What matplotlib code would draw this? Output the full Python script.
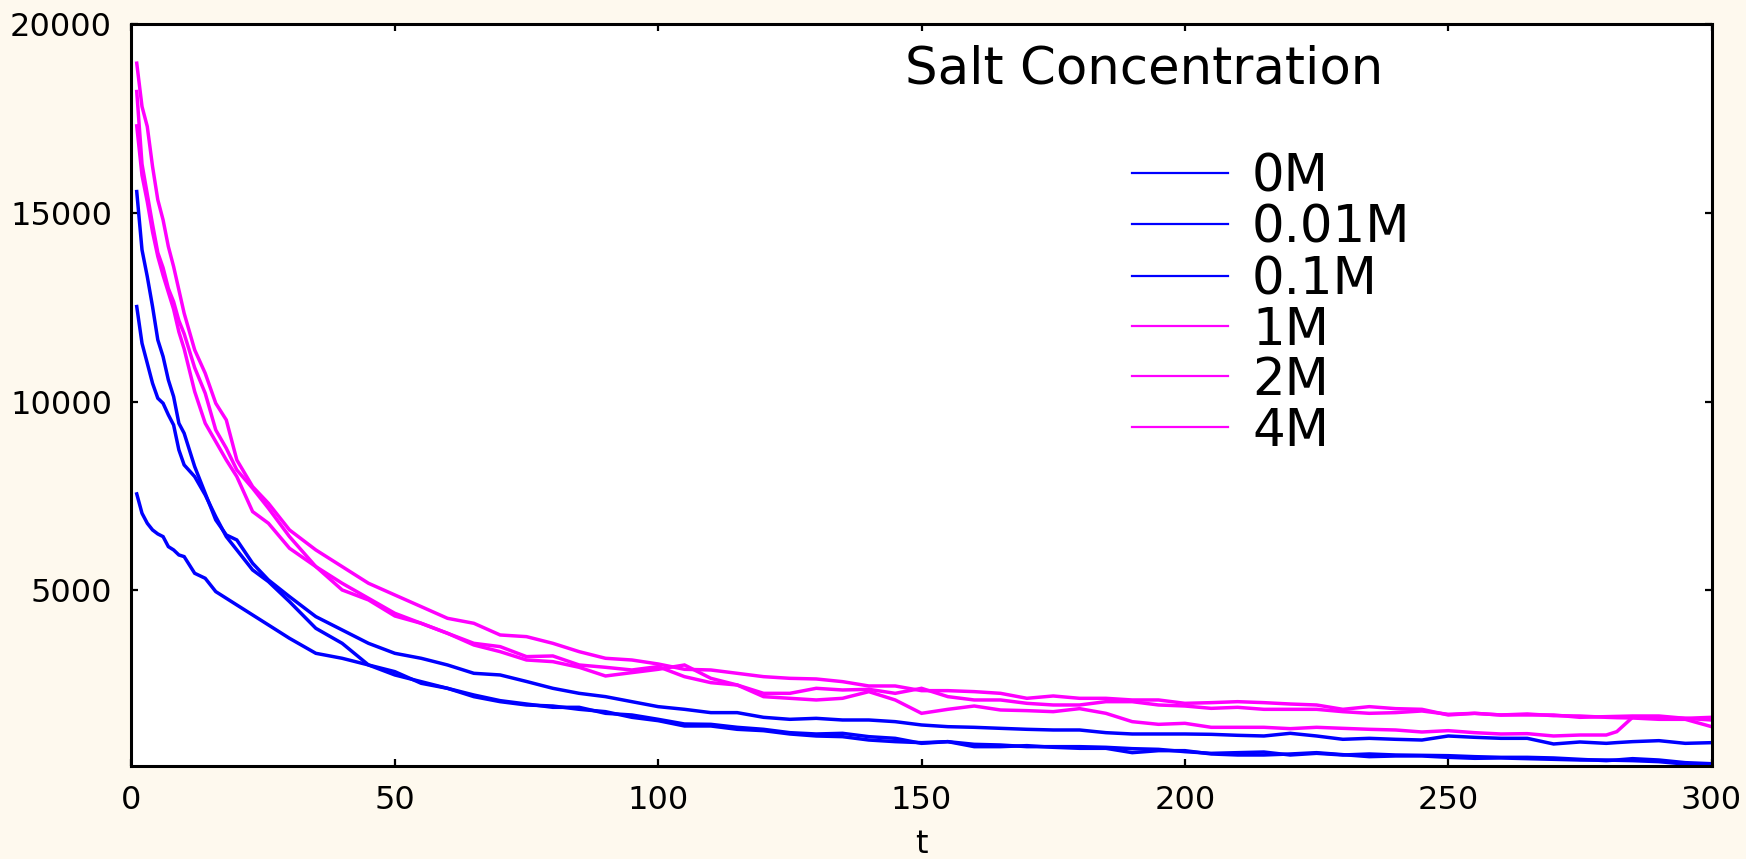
"""Salt concentration decay curves, six runs (0M .. 4M)."""

import matplotlib

matplotlib.use("Agg")
import matplotlib.pyplot as plt
import matplotlib.transforms as mtransforms

# time grid shared by all series (values at these t)
t = [1, 2, 3, 4, 5, 6, 7, 8, 9, 10,
     12, 14, 16, 18, 20, 23, 26, 30,
     35, 40, 45, 50, 55, 60, 65, 70, 75, 80, 85, 90, 95, 100,
     105, 110, 115, 120, 125, 130, 135, 140, 145, 150, 155, 160, 165, 170,
     175, 180, 185, 190, 195, 200, 205, 210, 215, 220, 225, 230, 235, 240,
     245, 250, 255, 260, 265, 270, 275, 280,
     282, 285, 290, 295, 300]

c_0M = [15570, 14024, 13316, 12521, 11637, 11195, 10576, 10134, 9427, 9162,
        8278, 7570, 6863, 6465, 6333, 5714, 5272, 4830,
        4300, 3946, 3592, 3327, 3195, 3018, 2797, 2753, 2580, 2399, 2266, 2178, 2045, 1913,
        1842, 1754, 1754, 1630, 1577, 1603, 1559, 1559, 1515, 1427, 1382, 1365, 1338, 1312,
        1294, 1294, 1223, 1188, 1188, 1188, 1179, 1153, 1135, 1206, 1135, 1047, 1073, 1047,
        1028, 1135, 1100, 1073, 1073, 923, 976, 940,
        960, 985, 1011, 940, 958]

c_001M = [12521, 11548, 11018, 10487, 10090, 9957, 9650, 9380, 8720, 8322,
          8012, 7526, 6951, 6421, 6068, 5537, 5228, 4697,
          3990, 3592, 3018, 2841, 2532, 2399, 2178, 2045, 1957, 1930, 1842, 1780, 1630, 1541,
          1400, 1400, 1312, 1276, 1188, 1135, 1117, 1028, 985, 958, 985, 852, 852, 879,
          835, 808, 808, 693, 746, 746, 658, 631, 631, 658, 693, 640, 587, 605,
          605, 569, 543, 552, 534, 516, 498, 498,
          490, 481, 454, 390, 360]

c_01M = [7553, 7040, 6775, 6598, 6492, 6421, 6156, 6068, 5935, 5891,
         5449, 5316, 4963, 4786, 4609, 4344, 4079, 3725,
         3327, 3195, 3018, 2753, 2576, 2399, 2222, 2072, 1983, 1895, 1895, 1736, 1692, 1577,
         1453, 1444, 1365, 1312, 1223, 1188, 1206, 1117, 1073, 940, 985, 914, 896, 852,
         852, 852, 835, 799, 781, 719, 675, 693, 710, 631, 675, 631, 658, 631,
         622, 613, 587, 569, 569, 552, 516, 481,
         500, 534, 498, 428, 400]

c_1M = [18974, 17825, 17294, 16234, 15350, 14819, 14112, 13581, 12963, 12344,
        11372, 10752, 9957, 9515, 8454, 7747, 7305, 6598,
        6068, 5626, 5184, 4874, 4565, 4255, 4123, 3813, 3769, 3592, 3371, 3195, 3150, 3044,
        2903, 2885, 2797, 2708, 2664, 2647, 2576, 2461, 2461, 2337, 2337, 2311, 2266, 2134,
        2196, 2134, 2134, 2090, 2090, 2001, 2019, 2045, 2019, 1983, 1957, 1842, 1913, 1860,
        1842, 1692, 1736, 1692, 1692, 1692, 1630, 1648,
        1655, 1665, 1665, 1603, 1630]

c_2M = [18222, 16300, 15500, 14700, 13950, 13550, 13000, 12650, 12150, 11800,
        10900, 10222, 9250, 8764, 8189, 7703, 7173, 6421,
        5626, 5184, 4786, 4388, 4123, 3858, 3592, 3504, 3239, 3257, 3018, 2956, 2885, 2974,
        2708, 2549, 2487, 2266, 2266, 2399, 2355, 2372, 2266, 2399, 2178, 2090, 2090, 2001,
        1957, 1957, 2045, 2045, 1957, 1930, 1868, 1895, 1842, 1842, 1842, 1780, 1736, 1754,
        1798, 1710, 1736, 1692, 1719, 1674, 1665, 1630,
        1620, 1612, 1577, 1577, 1382]

c_4M = [17312, 16000, 15300, 14500, 13850, 13350, 12900, 12450, 11850, 11400,
        10267, 9427, 8941, 8454, 8012, 7084, 6775, 6112,
        5626, 5007, 4742, 4317, 4123, 3858, 3548, 3371, 3150, 3106, 2956, 2726, 2815, 2903,
        3018, 2664, 2487, 2178, 2134, 2090, 2134, 2310, 2090, 1736, 1842, 1930, 1824, 1807,
        1780, 1860, 1736, 1515, 1444, 1471, 1365, 1365, 1365, 1329, 1365, 1338, 1312, 1294,
        1241, 1276, 1223, 1188, 1197, 1135, 1161, 1161,
        1250, 1630, 1630, 1603, 1559]

labels = ["0M", "0.01M", "0.1M", "1M", "2M", "4M"]
series = [c_0M, c_001M, c_01M, c_1M, c_2M, c_4M]

BLUE = "#0000FF"
MAGENTA = "#FF00FF"
BG = "#FEF9EE"


def main():
    for s in series:
        assert len(s) == len(t), len(s)

    colors = [BLUE, BLUE, BLUE, MAGENTA, MAGENTA, MAGENTA]

    fig = plt.figure(figsize=(17.46, 8.59), dpi=100, facecolor=BG)
    ax = fig.add_axes([0.0753, 0.1083, 0.9050, 0.8632])
    ax.set_facecolor("white")

    for vals, col in zip(series, colors):
        ax.plot(t, vals, color=col, lw=2.5, solid_joinstyle="miter")

    ax.set_xlim(0, 300)
    ax.set_ylim(340, 20000)
    ax.set_xticks(range(0, 301, 50))
    ax.set_yticks([5000, 10000, 15000, 20000])
    for sp in ax.spines.values():
        sp.set_linewidth(2.2)
    ax.tick_params(direction="in", length=5, width=1.6, top=True, right=True,
                   labelsize=23, pad=14)
    ax.set_xlabel("t", fontsize=23, labelpad=9)

    # legend drawn by hand: title + short line + label per series
    fs = 37
    ax.text(0.4896, 0.9207, "Salt Concentration", transform=ax.transAxes,
            fontsize=fs, ha="left", va="baseline")
    rows = [0.8003, 0.7312, 0.6606, 0.5931, 0.5256, 0.4566]
    txt_tr = mtransforms.offset_copy(ax.transAxes, fig=fig,
                                     y=-0.365 * fs, units="points")
    for y, lab, col in zip(rows, labels, colors):
        ax.plot([0.6335, 0.6942], [y, y], color=col, lw=1.6,
                transform=ax.transAxes, clip_on=False)
        ax.text(0.7092, y, lab, transform=txt_tr, fontsize=fs,
                ha="left", va="baseline")

    fig.savefig("out.png", dpi=100, facecolor=BG)


if __name__ == "__main__":
    main()
